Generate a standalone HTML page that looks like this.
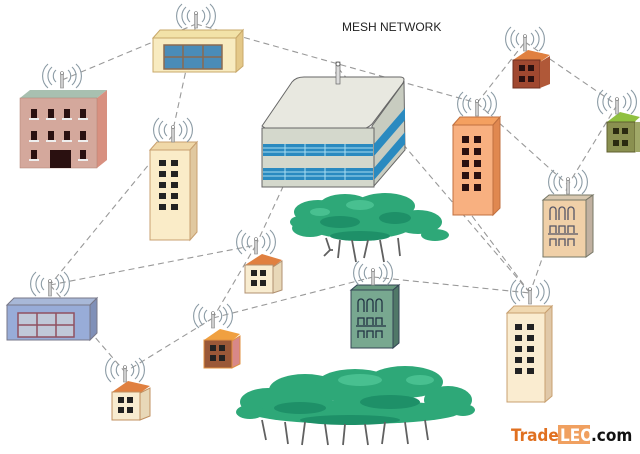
<!DOCTYPE html>
<html><head><meta charset="utf-8"><style>
html,body{margin:0;padding:0;background:#fff;width:640px;height:454px;overflow:hidden}
svg{display:block}
</style></head><body>
<svg width="640" height="454" viewBox="0 0 640 454" xmlns="http://www.w3.org/2000/svg" font-family="Liberation Sans, sans-serif">
<defs>
<g id="ant">
<path d="M-6,-12 a8,8 0 0,0 0,12 M6,-12 a8,8 0 0,1 0,12 M-10,-15 a12,12 0 0,0 0,18 M10,-15 a12,12 0 0,1 0,18 M-14,-18 a16,16 0 0,0 0,24 M14,-18 a16,16 0 0,1 0,24" fill="none" stroke="#8a9aa4" stroke-width="1.1"/>
<rect x="-1.5" y="-8" width="3" height="14" fill="#ccc" stroke="#888" stroke-width="0.6"/>
<circle cx="0" cy="-9" r="1.5" fill="#fff" stroke="#666" stroke-width="0.6"/>
</g>
</defs>
<g stroke="#999" stroke-width="1.1" stroke-dasharray="6,4" fill="none">
<line x1="62" y1="80" x2="196" y2="24"/>
<line x1="196" y1="24" x2="477" y2="103"/>
<line x1="196" y1="24" x2="173" y2="130"/>
<line x1="173" y1="135" x2="50" y2="285"/>
<line x1="338" y1="68" x2="256" y2="245"/>
<line x1="338" y1="68" x2="530" y2="293"/>
<line x1="477" y1="103" x2="525" y2="42"/>
<line x1="525" y1="42" x2="617" y2="105"/>
<line x1="617" y1="105" x2="568" y2="185"/>
<line x1="477" y1="103" x2="568" y2="185"/>
<line x1="568" y1="185" x2="530" y2="293"/>
<line x1="50" y1="285" x2="256" y2="245"/>
<line x1="256" y1="245" x2="213" y2="318"/>
<line x1="213" y1="318" x2="373" y2="277"/>
<line x1="373" y1="277" x2="530" y2="293"/>
<line x1="213" y1="318" x2="125" y2="372"/>
<line x1="50" y1="285" x2="125" y2="372"/>
<line x1="460" y1="200" x2="530" y2="293"/>
</g>
<text x="342" y="31" font-size="12" fill="#222">MESH NETWORK</text>

<polygon points="153,38 160,30 243,30 236,38" fill="#f2e2a8" stroke="#c8a86a"/>
<polygon points="236,38 243,30 243,66 236,72" fill="#e4c888" stroke="#c8a86a"/>
<rect x="153" y="38" width="83" height="34" fill="#f8ebc0" stroke="#c8a86a"/>
<rect x="164" y="45" width="58" height="24" fill="#4a8cb8" stroke="#8a6a50" stroke-width="1.5"/>
<path d="M164,57 H222 M183,45 V69 M203,45 V69" stroke="#8a6a50" stroke-width="1.5"/>
<use href="#ant" x="196" y="22"/>

<polygon points="20,98 30,90 107,90 97,98" fill="#a8c0b0"/>
<polygon points="97,98 107,90 107,160 97,168" fill="#d89080"/>
<rect x="20" y="98" width="77" height="70" fill="#d4a89c" stroke="#b08070" stroke-width="0.5"/>
<g fill="#2a1010">
<rect x="31" y="109" width="6" height="9"/><rect x="48" y="109" width="6" height="9"/><rect x="64" y="109" width="6" height="9"/><rect x="80" y="109" width="6" height="9"/>
<rect x="31" y="131" width="6" height="9"/><rect x="48" y="131" width="6" height="9"/><rect x="64" y="131" width="6" height="9"/><rect x="80" y="131" width="6" height="9"/>
<rect x="31" y="150" width="6" height="9"/><rect x="80" y="150" width="6" height="9"/>
<rect x="50" y="150" width="21" height="18"/></g>
<g fill="#eee"><rect x="29" y="118" width="10" height="2"/><rect x="46" y="118" width="10" height="2"/><rect x="62" y="118" width="10" height="2"/><rect x="78" y="118" width="10" height="2"/><rect x="29" y="140" width="10" height="2"/><rect x="46" y="140" width="10" height="2"/><rect x="62" y="140" width="10" height="2"/><rect x="78" y="140" width="10" height="2"/><rect x="29" y="159" width="10" height="2"/><rect x="78" y="159" width="10" height="2"/></g>
<use href="#ant" x="62" y="82"/>

<polygon points="150,150 157,142 197,142 190,150" fill="#f0d8a8" stroke="#c8a070"/>
<polygon points="190,150 197,142 197,232 190,240" fill="#e0c8a0" stroke="#c8a070"/>
<rect x="150" y="150" width="40" height="90" fill="#faecc8" stroke="#c8a070"/>
<g fill="#222"><rect x="159" y="160" width="7" height="6"/><rect x="171" y="160" width="7" height="6"/><rect x="159" y="171" width="7" height="6"/><rect x="171" y="171" width="7" height="6"/><rect x="159" y="182" width="7" height="6"/><rect x="171" y="182" width="7" height="6"/><rect x="159" y="193" width="7" height="6"/><rect x="171" y="193" width="7" height="6"/><rect x="159" y="204" width="7" height="6"/><rect x="171" y="204" width="7" height="6"/></g>
<use href="#ant" x="173" y="136"/>

<path d="M262,126 L292,82 Q296,77 304,77 L400,77 Q406,77 403,83 L372,124 Q366,130 356,130 L268,130 Z" fill="#e8e8e0" stroke="#666"/>
<path d="M372,126 L404,82 L405,150 L374,186 Z" fill="#c8ccc0" stroke="#666"/>
<rect x="262" y="128" width="112" height="59" fill="#d4d8cc" stroke="#666"/>
<g fill="#2a8ac0"><rect x="263" y="144" width="110" height="12"/><rect x="263" y="168" width="110" height="12"/></g>
<path d="M374,144 L405,108 L405,120 L374,156 Z M374,168 L405,132 L405,144 L374,180 Z" fill="#2a8ac0"/>
<g stroke="#a8dcf0" stroke-width="1"><path d="M263,148 H373 M263,152 H373 M263,172 H373 M263,176 H373"/><path d="M285,144 V156 M305,144 V156 M325,144 V156 M345,144 V156 M285,168 V180 M305,168 V180 M325,168 V180 M345,168 V180"/></g>
<rect x="336" y="62" width="4" height="22" fill="#ddd" stroke="#666" stroke-width="0.7"/>
<circle cx="338" cy="64" r="2" fill="#fff" stroke="#666"/>

<g fill="#2ea878">
<ellipse cx="318" cy="212" rx="24" ry="12"/><ellipse cx="345" cy="206" rx="26" ry="12"/><ellipse cx="385" cy="206" rx="30" ry="13"/><ellipse cx="418" cy="222" rx="24" ry="12"/><ellipse cx="310" cy="228" rx="18" ry="9"/><ellipse cx="360" cy="226" rx="52" ry="13"/><ellipse cx="435" cy="235" rx="14" ry="6"/><ellipse cx="300" cy="222" rx="10" ry="6"/></g>
<g fill="#1e9068"><ellipse cx="340" cy="222" rx="20" ry="6"/><ellipse cx="395" cy="218" rx="16" ry="6"/><ellipse cx="360" cy="236" rx="30" ry="5"/></g>
<g fill="#48c090"><ellipse cx="360" cy="205" rx="14" ry="5"/><ellipse cx="320" cy="212" rx="10" ry="4"/></g>
<g stroke="#606060" stroke-width="1.8" fill="none"><path d="M326,238 L330,250 L333,250 M340,240 L338,258 M352,240 L356,262 M368,240 L364,258 M380,240 L384,262 M398,238 L400,256 M330,250 L324,256"/></g>

<g fill="#2ea878">
<ellipse cx="268" cy="402" rx="28" ry="14"/><ellipse cx="305" cy="390" rx="36" ry="16"/><ellipse cx="355" cy="386" rx="40" ry="17"/><ellipse cx="405" cy="382" rx="38" ry="16"/><ellipse cx="448" cy="400" rx="24" ry="14"/><ellipse cx="355" cy="412" rx="105" ry="12"/><ellipse cx="250" cy="412" rx="14" ry="7"/><ellipse cx="463" cy="410" rx="12" ry="6"/></g>
<g fill="#1e9068"><ellipse cx="300" cy="408" rx="26" ry="6"/><ellipse cx="390" cy="402" rx="30" ry="7"/><ellipse cx="350" cy="420" rx="50" ry="5"/></g>
<g fill="#48c090"><ellipse cx="360" cy="380" rx="22" ry="6"/><ellipse cx="420" cy="380" rx="14" ry="5"/></g>
<g stroke="#606060" stroke-width="1.8" fill="none"><path d="M262,420 L266,440 M285,422 L288,444 M305,422 L302,445 M325,424 L328,445 M345,424 L343,445 M365,424 L368,445 M385,422 L382,444 M405,422 L408,444 M425,420 L428,440"/></g>

<polygon points="453,125 460,117 500,117 493,125" fill="#f4a060" stroke="#c07040"/>
<polygon points="493,125 500,117 500,208 493,215" fill="#e08850" stroke="#c07040"/>
<rect x="453" y="125" width="40" height="90" fill="#f8b080" stroke="#c07040"/>
<g fill="#2a1010"><rect x="462" y="136" width="7" height="7"/><rect x="474" y="136" width="7" height="7"/><rect x="462" y="148" width="7" height="7"/><rect x="474" y="148" width="7" height="7"/><rect x="462" y="160" width="7" height="7"/><rect x="474" y="160" width="7" height="7"/><rect x="462" y="172" width="7" height="7"/><rect x="474" y="172" width="7" height="7"/><rect x="462" y="184" width="7" height="7"/><rect x="474" y="184" width="7" height="7"/></g>
<use href="#ant" x="477" y="110"/>

<polygon points="513,60 528,50 550,55 540,62" fill="#e08040"/>
<rect x="513" y="60" width="27" height="28" fill="#a04830" stroke="#703020"/>
<polygon points="540,62 550,56 550,84 540,88" fill="#b05838"/>
<g fill="#2a1010"><rect x="519" y="65" width="6" height="6"/><rect x="528" y="65" width="6" height="6"/><rect x="519" y="76" width="6" height="6"/><rect x="528" y="76" width="6" height="6"/></g>
<use href="#ant" x="525" y="45"/>

<polygon points="607,122 620,112 640,117 632,124" fill="#90c040"/>
<rect x="607" y="122" width="28" height="30" fill="#8a9050" stroke="#606030"/>
<rect x="635" y="122" width="5" height="30" fill="#a0a868"/>
<g fill="#2a2a10"><rect x="613" y="128" width="6" height="6"/><rect x="622" y="128" width="6" height="6"/><rect x="613" y="140" width="6" height="6"/><rect x="622" y="140" width="6" height="6"/></g>
<use href="#ant" x="617" y="108"/>

<polygon points="543,200 549,195 593,195 586,200" fill="#d8c8b0" stroke="#776"/>
<polygon points="586,200 593,195 593,252 586,257" fill="#c0b0a0" stroke="#776"/>
<rect x="543" y="200" width="43" height="57" fill="#f0d0a8" stroke="#776"/>
<g fill="none" stroke="#556" stroke-width="1.3"><path d="M550,220 V210 a3,3 0 0,1 6,0 V220 M559,220 V210 a3,3 0 0,1 6,0 V220 M568,220 V210 a3,3 0 0,1 6,0 V220 M550,233 v-7 h6 v7 M559,233 v-7 h6 v7 M568,233 v-7 h6 v7 M548,234 H578 M550,246 v-7 h6 v7 M559,246 v-7 h6 v7 M568,246 v-7 h6 v7"/></g>
<use href="#ant" x="568" y="188"/>

<polygon points="245,265 262,254 282,260 273,267" fill="#e08040"/>
<rect x="245" y="265" width="28" height="28" fill="#f8ecd0" stroke="#b09070"/>
<polygon points="273,267 282,261 282,290 273,293" fill="#e8d8b8" stroke="#b09070"/>
<g fill="#222"><rect x="251" y="270" width="6" height="6"/><rect x="260" y="270" width="6" height="6"/><rect x="251" y="280" width="6" height="6"/><rect x="260" y="280" width="6" height="6"/></g>
<use href="#ant" x="256" y="248"/>

<polygon points="351,290 357,285 399,285 393,290" fill="#6a9a80" stroke="#345"/>
<polygon points="393,290 399,285 399,343 393,348" fill="#507868" stroke="#345"/>
<rect x="351" y="290" width="42" height="58" fill="#78a890" stroke="#345"/>
<g fill="none" stroke="#234" stroke-width="1.3"><path d="M358,312 V302 a3,3 0 0,1 6,0 V312 M367,312 V302 a3,3 0 0,1 6,0 V312 M376,312 V302 a3,3 0 0,1 6,0 V312 M358,325 v-7 h6 v7 M367,325 v-7 h6 v7 M376,325 v-7 h6 v7 M356,326 H386 M358,338 v-7 h6 v7 M367,338 v-7 h6 v7 M376,338 v-7 h6 v7"/></g>
<use href="#ant" x="373" y="279"/>

<polygon points="7,305 14,298 97,298 90,305" fill="#a8b8d8" stroke="#778"/>
<polygon points="90,305 97,298 97,333 90,340" fill="#8090b8" stroke="#778"/>
<rect x="7" y="305" width="83" height="35" fill="#98acd8" stroke="#778"/>
<rect x="18" y="313" width="56" height="24" fill="#c0c8d8" stroke="#905060" stroke-width="1.5"/>
<path d="M18,325 H74 M37,313 V337 M56,313 V337" stroke="#905060" stroke-width="1.5"/>
<use href="#ant" x="50" y="290"/>

<polygon points="204,340 220,329 240,334 232,341" fill="#f0a040"/>
<rect x="204" y="340" width="28" height="28" fill="#9a5838" stroke="#e09040"/>
<polygon points="232,341 240,336 240,364 232,368" fill="#d88888" stroke="#e09040"/>
<g fill="#222"><rect x="210" y="345" width="6" height="6"/><rect x="219" y="345" width="6" height="6"/><rect x="210" y="355" width="6" height="6"/><rect x="219" y="355" width="6" height="6"/></g>
<use href="#ant" x="213" y="322"/>

<polygon points="112,392 128,381 150,386 140,393" fill="#e08040"/>
<rect x="112" y="392" width="28" height="28" fill="#f8ecd0" stroke="#c09060"/>
<polygon points="140,393 150,388 150,416 140,420" fill="#e8d8b8" stroke="#c09060"/>
<g fill="#222"><rect x="118" y="397" width="6" height="6"/><rect x="127" y="397" width="6" height="6"/><rect x="118" y="407" width="6" height="6"/><rect x="127" y="407" width="6" height="6"/></g>
<use href="#ant" x="125" y="376"/>

<polygon points="507,313 514,306 552,306 545,313" fill="#f0d8b0" stroke="#c8a070"/>
<polygon points="545,313 552,306 552,396 545,402" fill="#e0c8a8" stroke="#c8a070"/>
<rect x="507" y="313" width="38" height="89" fill="#faecd0" stroke="#c8a070"/>
<g fill="#222"><rect x="515" y="324" width="7" height="6"/><rect x="527" y="324" width="7" height="6"/><rect x="515" y="335" width="7" height="6"/><rect x="527" y="335" width="7" height="6"/><rect x="515" y="346" width="7" height="6"/><rect x="527" y="346" width="7" height="6"/><rect x="515" y="357" width="7" height="6"/><rect x="527" y="357" width="7" height="6"/><rect x="515" y="368" width="7" height="6"/><rect x="527" y="368" width="7" height="6"/></g>
<use href="#ant" x="530" y="298"/>

<text x="511" y="441" font-size="17" font-weight="bold" fill="#e07020" font-family="DejaVu Sans Condensed, Liberation Sans, sans-serif">Trade</text>
<rect x="558" y="425" width="32" height="19" fill="#f0a060"/>
<text x="560" y="441" font-size="17" font-weight="bold" fill="#fff" font-family="DejaVu Sans Condensed, Liberation Sans, sans-serif">LEO</text>
<text x="591" y="441" font-size="17" font-weight="bold" fill="#111" font-family="DejaVu Sans Condensed, Liberation Sans, sans-serif">.com</text>
</svg>
</body></html>
